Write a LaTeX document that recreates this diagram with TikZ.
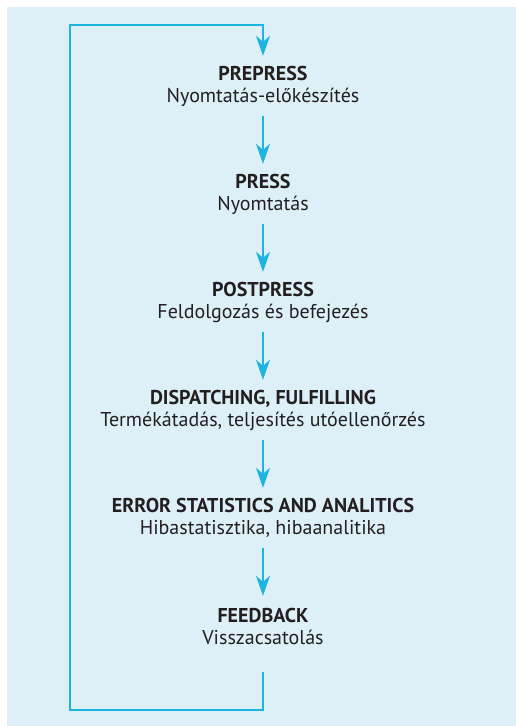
\documentclass[tikz,border=0pt]{standalone}
\usepackage{fontspec}
\setmainfont{PT Sans}
\usetikzlibrary{arrows.meta}
\definecolor{panel}{HTML}{DDF0F8}
\definecolor{flow}{HTML}{1EB4E0}
\definecolor{ink}{HTML}{231F20}
\tikzset{
	stage/.style={align=center,text=ink,inner sep=0pt,minimum height=52pt,
		font=\fontsize{20}{22}\selectfont},
	flowline/.style={draw=flow,line width=1.3pt},
	flowarrow/.style={flowline,-{Stealth[length=20pt,width=14pt,inset=6pt]},
		shorten <=4pt,shorten >=4pt},
}
\begin{document}
\begin{tikzpicture}
				\useasboundingbox (0,0) rectangle (516pt,-726pt);
				\fill[panel] (7pt,-7pt) rectangle (516pt,-726pt);
				% the six stages, one above the other
				\node[stage] (prepress) at (263pt,-86pt) {\textbf{PREPRESS}\\Nyomtatás-előkészítés};
				\node[stage] (press) at (263pt,-194pt) {\textbf{PRESS}\\Nyomtatás};
				\node[stage] (postpress) at (263pt,-302pt) {\textbf{POSTPRESS}\\Feldolgozás és befejezés};
				\node[stage] (dispatch) at (263pt,-410pt) {\textbf{DISPATCHING, FULFILLING}\\Termékátadás, teljesítés utóellenőrzés};
				\node[stage] (errors) at (263pt,-518pt) {\textbf{ERROR STATISTICS AND ANALITICS}\\Hibastatisztika, hibaanalitika};
				\node[stage] (feedback) at (263pt,-626pt) {\textbf{FEEDBACK}\\Visszacsatolás};
				\draw[flowarrow] (prepress) -- (press);
				\draw[flowarrow] (press) -- (postpress);
				\draw[flowarrow] (postpress) -- (dispatch);
				\draw[flowarrow] (dispatch) -- (errors);
				\draw[flowarrow] (errors) -- (feedback);
				% loop back to the top
				\coordinate (loopout) at (263pt,-672pt);
				\coordinate (loopbottom) at (70pt,-710pt);
				\coordinate (looptop) at (70pt,-25pt);
				\draw[flowline] (loopout) |- (loopbottom) -- (looptop) -| (263pt,-40pt);
				\draw[flowarrow,shorten <=0pt] (263pt,-26pt) -- (prepress);
\end{tikzpicture}
\end{document}
